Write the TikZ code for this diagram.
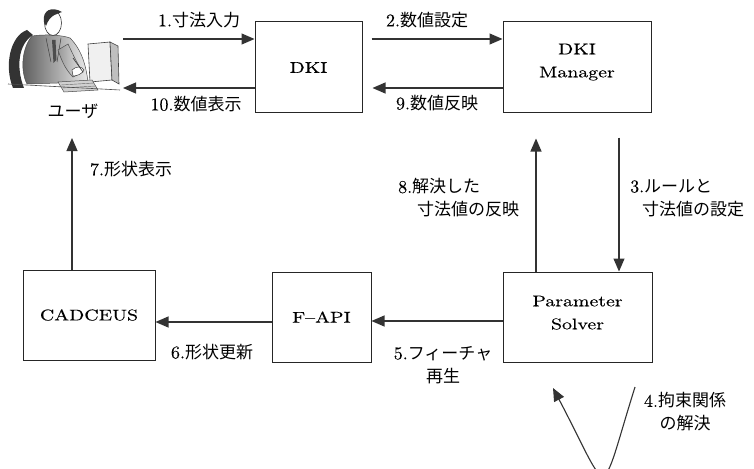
\documentclass[tikz,border=0pt]{standalone}
\usepackage{fontspec}
\usetikzlibrary{arrows.meta,calc}
\newfontfamily\jp{Noto Sans CJK JP}
\newfontfamily\lmw{lmroman10-regular.otf}[FakeStretch=1.28, FakeBold=0.2, Ligatures=TeX]
\newfontfamily\lmd{lmroman10-regular.otf}[FakeBold=0.15]
\newcommand\J[1]{{\jp\fontsize{17}{23}\selectfont #1}}

\begin{document}
\begin{tikzpicture}[x=1pt,y=-1pt,
  box/.style={draw=black!85, line width=1pt, inner sep=0pt, align=center,
    font=\lmw\fontsize{15.5}{23}\selectfont},
  lbl/.style={inner sep=0pt, align=center, font=\lmd\fontsize{18}{23}\selectfont},
  arr/.style={draw=black!80, line width=1.1pt, -{Triangle[length=13pt,width=11pt]}}]
\clip (0,0) rectangle (754,468);
\fill[white] (0,0) rectangle (754,468);

% ---- user at the workstation ----
\fill[black!80] (27,30) .. controls (10,36) and (4,66) .. (13,88) -- (24,88)
  .. controls (16,68) and (18,44) .. (33,35) -- cycle;
\shade[left color=black!65, right color=black!8, draw=black!70, line width=0.5pt]
  (32,36) .. controls (22,48) and (20,70) .. (27,84) -- (88,82)
  .. controls (86,66) and (82,50) .. (70,38) .. controls (62,35) and (45,34) .. cycle;
\draw[black!75, line width=0.5pt] (46,38) -- (51,62) (61,38) -- (57,62);
\fill[black!70] (52,40) -- (55.5,40) -- (56.5,60) -- (53.5,63) -- cycle;
\shade[left color=black!40, right color=black!10, draw=black!70, line width=0.5pt]
  (58,50) .. controls (62,62) and (66,70) .. (73,77) -- (83,72)
  .. controls (76,62) and (72,52) .. (68,44) -- cycle;
\filldraw[fill=white, draw=black!75, line width=0.5pt] (72,70) .. controls (76,66) and (82,66) .. (84,70)
  .. controls (82,74) and (77,76) .. (73,76) -- cycle;
\draw[black!75, line width=0.7pt] (73,58) -- (83,72);
\filldraw[fill=white, draw=black!80, line width=0.6pt] (53,23) ellipse [x radius=8.5, y radius=12.5];
\fill[black!80] (44,22) .. controls (42,10) and (52,6) .. (62,12)
  .. controls (58,14) and (50,14) .. (46,26) -- cycle;
\filldraw[fill=black!6, draw=black!75, line width=0.6pt] (88,44) -- (110,42) -- (112,80) -- (90,82) -- cycle;
\filldraw[fill=black!25, draw=black!75, line width=0.6pt] (110,42) -- (118,46) -- (119,84) -- (112,80) -- cycle;
\filldraw[fill=black!18, draw=black!70, line width=0.5pt] (58,82) -- (92,80) -- (98,90) -- (64,92) -- cycle;
\draw[black!60, line width=0.4pt] (61,85) -- (94,83) (62,88) -- (96,86);
\draw[black!70, line width=0.6pt] (8,84) -- (120,90);
\node[lbl] (ulbl) at (73,111) {\J{ユーザ}};

% ---- components ----
\node[box, minimum width=107pt, minimum height=91pt] (dki)  at (308.5,67.5) {DKI};
\node[box, minimum width=148pt, minimum height=91pt, text depth=14pt] (dkim) at (577,67.5) {DKI\\Manager};
\node[box, minimum width=149pt, minimum height=90pt, text depth=9pt] (ps) at (577.5,317) {Parameter\\Solver};
\node[box, minimum width=99pt,  minimum height=90pt] (fapi) at (321.5,317)  {F--API};
\node[box, minimum width=132pt, minimum height=90pt] (cad)  at (89,315)     {CADCEUS};

% ---- connector rows and columns ----
\coordinate (u1)  at (123,39);
\coordinate (u10) at (123,88);
\coordinate (c3)  at (619,0);
\coordinate (c8)  at (536,0);
\coordinate (r5)  at (0,321);
\coordinate (r6)  at (0,322);
\coordinate (t7)  at (72,138);
\coordinate (l4a) at (635,387);
\coordinate (l4b) at (553,388);

\draw[arr] (u1) -- (u1 -| dki.west);
\draw[arr] (u10 -| dki.west) -- (u10);
\draw[arr, shorten <=9pt] (u1 -| dki.east) -- (u1 -| dkim.west);
\draw[arr, shorten >=10pt] (u10 -| dkim.west) -- (u10 -| dki.east);
\draw[arr, shorten <=24pt] (c3 |- dkim.south) -- (c3 |- ps.north);
\draw[arr] (l4a) .. controls (598,505) and (612,500) .. (l4b);
\draw[arr] (r5 -| ps.west) -- (r5 -| fapi.east);
\draw[arr] (r6 -| fapi.west) -- (r6 -| cad.east);
\draw[arr] (t7 |- cad.north) -- (t7);
\draw[arr, shorten >=25pt] (c8 |- ps.north) -- (c8 |- dkim.south);

% ---- step labels ----
\node[lbl] (l1)  at (199,20)  {1.\J{寸法入力}};
\node[lbl] (l10) at (196,104) {10.\J{数値表示}};
\node[lbl] (l2)  at (427,20)  {2.\J{数値設定}};
\node[lbl] (l9)  at (437,103) {9.\J{数値反映}};
\node[lbl, anchor=west, align=left] (l3) at (630,198) {3.\J{ルールと}\\\hspace*{12pt}\J{寸法値の設定}};
\node[lbl, anchor=west, align=left] (l8) at (398,198) {8.\J{解決した}\\\hspace*{19pt}\J{寸法値の反映}};
\node[lbl] (l4)  at (685,412) {4.\J{拘束関係}\\\J{の解決}};
\node[lbl] (l5)  at (443,365) {5.\J{フィーチャ}\\\J{再生}};
\node[lbl] (l6)  at (212,352) {6.\J{形状更新}};
\node[lbl] (l7)  at (131,169) {7.\J{形状表示}};
\end{tikzpicture}
\end{document}
